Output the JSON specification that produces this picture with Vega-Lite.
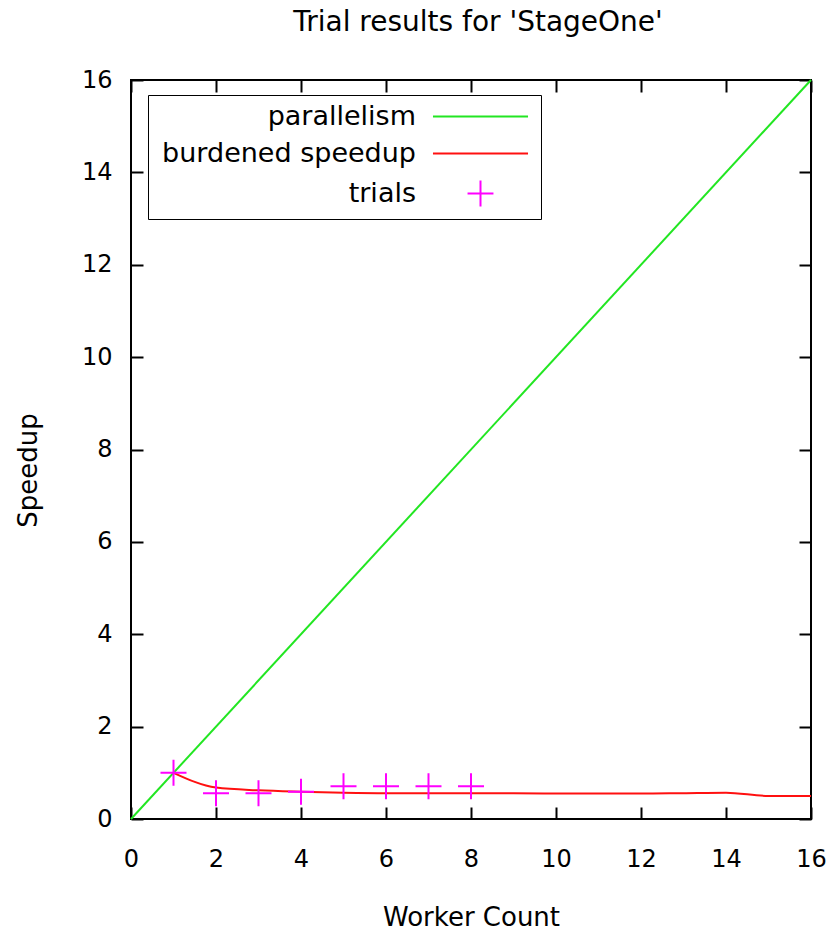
{
  "$schema": "https://vega.github.io/schema/vega-lite/v6.json",
  "width": 680,
  "height": 739,
  "autosize": {"type": "none"},
  "padding": {"left": 131, "top": 80, "right": 25, "bottom": 111},
  "background": "white",
  "title": {"text": "Trial results for 'StageOne'", "font": "DejaVu Sans", "fontSize": 28, "fontWeight": "normal", "color": "black", "anchor": "middle", "offset": 31, "dx": 7},
  "config": {
    "view": {"stroke": "black", "strokeWidth": 2},
    "axis": {"domain": false, "grid": false, "labelFlush": false, "tickColor": "black", "tickWidth": 2, "tickSize": -12, "labelFont": "DejaVu Sans", "labelFontSize": 24, "labelColor": "black", "titleFont": "DejaVu Sans", "titleFontSize": 26, "titleFontWeight": "normal", "titleColor": "black"}
  },
  "datasets": {
    "par": [{"series": "parallelism", "x": 0, "y": 0}, {"series": "parallelism", "x": 16, "y": 16}],
    "burd": [
      {"series": "burdened speedup", "x": 1, "y": 1.0},
      {"series": "burdened speedup", "x": 2, "y": 0.68},
      {"series": "burdened speedup", "x": 3, "y": 0.62},
      {"series": "burdened speedup", "x": 4, "y": 0.59},
      {"series": "burdened speedup", "x": 5, "y": 0.57},
      {"series": "burdened speedup", "x": 6, "y": 0.56},
      {"series": "burdened speedup", "x": 7, "y": 0.56},
      {"series": "burdened speedup", "x": 8, "y": 0.56},
      {"series": "burdened speedup", "x": 9, "y": 0.555},
      {"series": "burdened speedup", "x": 10, "y": 0.55},
      {"series": "burdened speedup", "x": 11, "y": 0.55},
      {"series": "burdened speedup", "x": 12, "y": 0.55},
      {"series": "burdened speedup", "x": 13, "y": 0.56},
      {"series": "burdened speedup", "x": 14, "y": 0.57},
      {"series": "burdened speedup", "x": 15, "y": 0.5},
      {"series": "burdened speedup", "x": 16, "y": 0.5}
    ],
    "trials": [
      {"series": "trials", "x": 1, "y": 1.0},
      {"series": "trials", "x": 2, "y": 0.56},
      {"series": "trials", "x": 3, "y": 0.56},
      {"series": "trials", "x": 4, "y": 0.59},
      {"series": "trials", "x": 5, "y": 0.71},
      {"series": "trials", "x": 6, "y": 0.71},
      {"series": "trials", "x": 7, "y": 0.71},
      {"series": "trials", "x": 8, "y": 0.71}
    ]
  },
  "resolve": {"axis": {"x": "independent", "y": "independent"}},
  "layer": [
    {
      "data": {"name": "par"},
      "mark": {"type": "line", "strokeWidth": 2},
      "encoding": {
        "x": {"field": "x", "type": "quantitative", "scale": {"domain": [0, 16], "nice": false}, "axis": {"orient": "bottom", "title": "Worker Count", "values": [0, 2, 4, 6, 8, 10, 12, 14, 16], "format": "d", "labelFlush": false, "labelPadding": 40, "titlePadding": 33}},
        "y": {"field": "y", "type": "quantitative", "scale": {"domain": [0, 16], "nice": false}, "axis": {"orient": "left", "title": "Speedup", "values": [0, 2, 4, 6, 8, 10, 12, 14, 16], "format": "d", "labelFlush": false, "labelPadding": 31, "titlePadding": 40, "titleY": 390}},
        "color": {"field": "series", "type": "nominal",
          "scale": {"domain": ["parallelism", "burdened speedup", "trials"], "range": ["#22e622", "#ff1010", "#ff00ff"]},
          "legend": {
            "orient": "none", "legendX": 17, "legendY": 15, "direction": "vertical",
            "title": null, "padding": 8, "strokeColor": "black", "fillColor": "white",
            "labelFont": "DejaVu Sans", "labelFontSize": 27, "labelColor": "black", "labelLimit": 400,
            "labelAlign": "right", "labelOffset": -78, "symbolOffset": 311,
            "symbolSize": 576, "symbolType": "M-3.96,0H3.96", "symbolStrokeWidth": 2, "rowPadding": 9,
            "encode": {"symbols": {"update": {
              "shape": {"signal": "datum.label === 'trials' ? 'M-1.08,0H1.08M0,-1.08V1.08' : 'M-3.96,0H3.96'"},
              "strokeWidth": {"value": 2},
              "fill": {"value": "transparent"}
            }}}
          }
        }
      }
    },
    {
      "data": {"name": "burd"},
      "mark": {"type": "line", "strokeWidth": 2, "interpolate": "monotone"},
      "encoding": {
        "x": {"field": "x", "type": "quantitative", "axis": {"orient": "top", "title": null, "labels": false, "values": [0, 2, 4, 6, 8, 10, 12, 14, 16]}},
        "y": {"field": "y", "type": "quantitative", "axis": {"orient": "right", "title": null, "labels": false, "values": [0, 2, 4, 6, 8, 10, 12, 14, 16]}},
        "color": {"field": "series", "type": "nominal"}
      }
    },
    {
      "data": {"name": "trials"},
      "mark": {"type": "point", "shape": "M-1,0H1M0,-1V1", "filled": false, "strokeWidth": 2, "size": 676, "opacity": 1},
      "encoding": {
        "x": {"field": "x", "type": "quantitative", "axis": null},
        "y": {"field": "y", "type": "quantitative", "axis": null},
        "color": {"field": "series", "type": "nominal"}
      }
    }
  ]
}
